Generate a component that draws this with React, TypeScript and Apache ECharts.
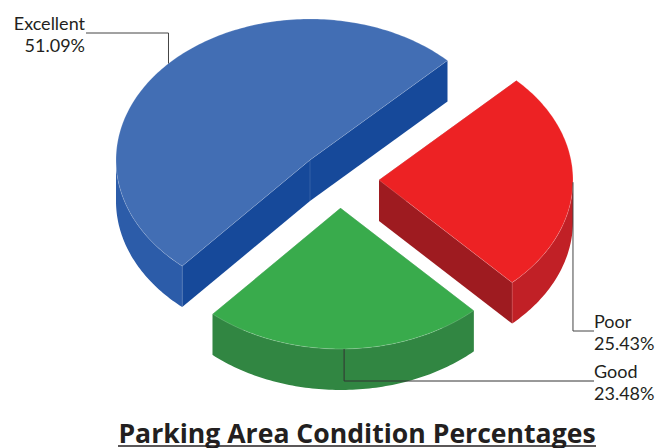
import React, { useEffect, useRef } from "react";
import * as echarts from "echarts";

const categories = ["Excellent", "Poor", "Good"];
const values = [51.09, 25.43, 23.48];
const valueLabels = ["51.09%", "25.43%", "23.48%"];
const titleText = "Parking Area Condition Percentages";

const topColors = ["#426EB4", "#ED2224", "#39AB4C"];
const wallColors = ["#2C5CA9", "#C12026", "#318642"];
const cutColors = ["#16499A", "#9E1B20", "#318642"];

const RX = 194;
const RY = 141;
const DEPTH = 41;
const START_ANGLE = 221.2;
const sliceCenters = [
  [310, 160],
  [379, 180],
  [340.5, 208],
];
const leaderEnds = [
  { y: 33, x: 86, tx: 85, align: "right", ty: 23 },
  { y: 331, x: 594, tx: 594, align: "left", ty: 321 },
  { y: 381, x: 594, tx: 594, align: "left", ty: 371 },
];
const FONT = "Lato, 'Open Sans', sans-serif";

function renderItem(params: any, api: any) {
  const i = params.dataIndex;
  const total = values.reduce((a, b) => a + b, 0);
  let a0 = START_ANGLE;
  for (let k = 0; k < i; k++) a0 += (values[k] / total) * 360;
  a0 = a0 % 360;
  const a1 = a0 + (api.value(0) / total) * 360;
  const [cx, cy] = sliceCenters[i];
  const pt = (deg: number, drop = 0) => {
    const r = (deg * Math.PI) / 180;
    return [cx + RX * Math.sin(r), cy - RY * Math.cos(r) + drop];
  };
  const arc = (s: number, e: number, drop = 0) => {
    const out: number[][] = [];
    const n = Math.max(2, Math.ceil(Math.abs(e - s)));
    for (let k = 0; k <= n; k++) out.push(pt(s + ((e - s) * k) / n, drop));
    return out;
  };
  const children: any[] = [];
  const cut = (deg: number) => {
    const p = pt(deg);
    children.push({
      type: "polygon",
      shape: { points: [[cx, cy], p, [p[0], p[1] + DEPTH], [cx, cy + DEPTH]] },
      style: { fill: cutColors[i] },
    });
  };
  cut(a0);
  cut(a1);
  const ws = Math.max(a0, 90);
  const we = Math.min(a1, 270);
  if (we > ws) {
    children.push({
      type: "polygon",
      shape: { points: [...arc(ws, we), ...arc(we, ws, DEPTH)] },
      style: { fill: wallColors[i] },
    });
  }
  const seam = (x: number, y: number) =>
    children.push({
      type: "line",
      shape: { x1: x, y1: y, x2: x, y2: y + DEPTH },
      style: { stroke: "rgba(255,255,255,0.18)", lineWidth: 0.7 },
    });
  if (i === 0) seam(cx, cy);
  [a0, a1].forEach((d) => {
    if (i !== 2 && d > 90 && d < 270) {
      const p = pt(d);
      seam(p[0], p[1]);
    }
  });
  children.push({
    type: "polygon",
    shape: { points: [[cx, cy], ...arc(a0, a1)] },
    style: { fill: topColors[i], stroke: "rgba(255,255,255,0.3)", lineWidth: 0.6 },
  });

  const anchor = pt((a0 + a1) / 2);
  const end = leaderEnds[i];
  children.push({
    type: "polyline",
    shape: { points: [anchor, [anchor[0], end.y], [end.x, end.y]] },
    style: { fill: "none", stroke: i === 2 ? "#333333" : "#444444", lineWidth: 1 },
  });
  [categories[i], valueLabels[i]].forEach((t, k) =>
    children.push({
      type: "text",
      x: end.tx,
      y: end.ty + k * 22,
      style: {
        text: t,
        fill: "#231F20",
        font: `400 18px ${FONT}`,
        align: end.align,
        verticalAlign: "middle",
      },
    })
  );
  return { type: "group", children };
}

export default function App() {
  const ref = useRef<HTMLDivElement>(null);
  useEffect(() => {
    const chart = echarts.init(ref.current!, null, { renderer: "svg" });
    chart.setOption({
      animation: false,
      backgroundColor: "#ffffff",
      series: [
        {
          type: "custom",
          coordinateSystem: "none",
          silent: true,
          renderItem,
          data: values.map((v, i) => ({ name: categories[i], value: [v] })),
        },
      ],
      graphic: [
        {
          type: "text",
          x: 357,
          y: 432.5,
          style: {
            text: titleText,
            fill: "#231F20",
            font: "700 26.6px 'Open Sans', sans-serif",
            align: "center",
            verticalAlign: "middle",
          },
        },
        {
          type: "line",
          shape: { x1: 118, y1: 446, x2: 596, y2: 446 },
          style: { stroke: "#231F20", lineWidth: 1.5 },
        },
      ],
    });
    return () => chart.dispose();
  }, []);
  return (
    <div
      ref={ref}
      style={{ position: "fixed", left: 0, top: 0, width: 664, height: 448 }}
    />
  );
}
